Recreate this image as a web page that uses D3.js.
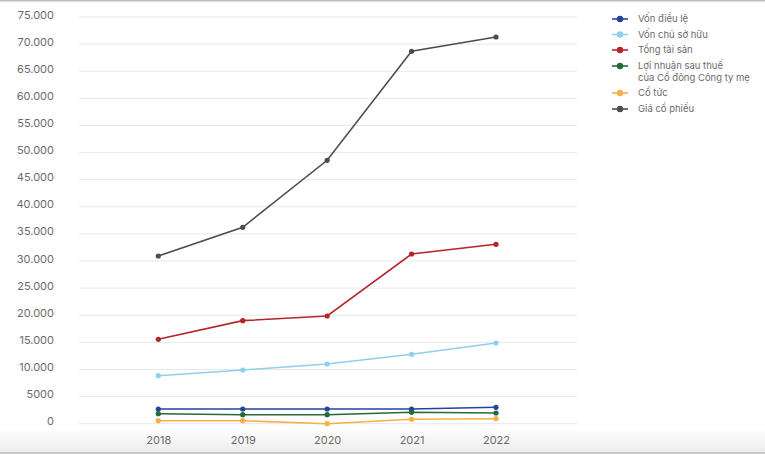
<!DOCTYPE html>
<html><head><meta charset="utf-8">
<script src="https://cdn.jsdelivr.net/npm/d3@7"></script>
<style>
html,body{margin:0;padding:0;background:#fff;}
svg{display:block;font-family:Inter,"Open Sans",sans-serif;}
</style></head>
<body><svg id="c" width="765" height="454"></svg>
<script>
const years = ["2018","2019","2020","2021","2022"];
const yTicks = [0,5000,10000,15000,20000,25000,30000,35000,40000,45000,50000,55000,60000,65000,70000,75000];
const seriesNames = ["Vốn điều lệ","Vốn chủ sở hữu","Tổng tài sản","Lợi nhuận sau thuế\ncủa Cổ đông Công ty mẹ","Cổ tức","Giá cổ phiếu"];
const seriesColors = ["#26439b","#8ecfee","#b5252a","#236b3a","#f5b04a","#4d4d4d"];
const vonDieuLe = [2710,2710,2710,2710,3020];
const vonChuSoHuu = [8850,9900,11010,12800,14880];
const tongTaiSan = [15560,19000,19860,31290,33080];
const loiNhuan = [1840,1660,1660,2100,1970];
const coTuc = [550,550,0,810,920];
const giaCoPhieu = [30925,36220,48575,68670,71310];
const seriesValues = [vonDieuLe,vonChuSoHuu,tongTaiSan,loiNhuan,coTuc,giaCoPhieu];

const svg = d3.select("#c");
// card shadow background
const defs = svg.append("defs");
const g1 = defs.append("linearGradient").attr("id","bot").attr("x1",0).attr("y1",0).attr("x2",0).attr("y2",1);
g1.append("stop").attr("offset","0%").attr("stop-color","#fff");
g1.append("stop").attr("offset","100%").attr("stop-color","#ececec");
svg.append("rect").attr("x",0).attr("y",428).attr("width",765).attr("height",24).attr("fill","url(#bot)");
svg.append("rect").attr("x",0).attr("y",452).attr("width",765).attr("height",2).attr("fill","#c8c8c8");
svg.append("rect").attr("x",0).attr("y",0).attr("width",765).attr("height",1.5).attr("fill","#bdbdbd");

const x = d3.scalePoint().domain(years).range([158.3,496]);
const y = d3.scaleLinear().domain([0,75000]).range([423.7,17]);

// gridlines
svg.append("g").selectAll("line").data(yTicks).join("line")
  .attr("x1",79).attr("x2",577).attr("y1",d=>y(d)).attr("y2",d=>y(d))
  .attr("stroke","#e8e8e8").attr("stroke-width",1);

// y axis labels
const fmt = d => d>=10000 ? d3.format(",")(d).replace(/,/g,".") : String(d);
const yAxis = d3.axisLeft(y).tickValues(yTicks).tickFormat(fmt).tickSize(0).tickPadding(0);
const ya = svg.append("g").attr("transform","translate(54,-2.5)").call(yAxis);
ya.select(".domain").remove();
ya.selectAll("text").attr("fill","#6b6b6b").attr("font-size","11px").attr("font-family","Inter,'Open Sans',sans-serif");

// x axis labels
const xAxis = d3.axisBottom(x).tickSize(0).tickPadding(0);
const xa = svg.append("g").attr("transform","translate(0,436)").call(xAxis);
xa.select(".domain").remove();
xa.selectAll("text").attr("fill","#6b6b6b").attr("font-size","11px").attr("font-family","Inter,'Open Sans',sans-serif");

const line = d3.line().x((d,i)=>x(years[i])).y(d=>y(d));
seriesValues.forEach((vals,si)=>{
  const g = svg.append("g");
  g.append("path").datum(vals).attr("d",line).attr("fill","none")
    .attr("stroke",seriesColors[si]).attr("stroke-width",1.6);
  g.selectAll("circle").data(vals).join("circle")
    .attr("cx",(d,i)=>x(years[i])).attr("cy",d=>y(d)).attr("r",2.6)
    .attr("fill",seriesColors[si]);
});

// legend
const legY = [19,34.5,50,66,93,109];
const leg = svg.append("g");
seriesNames.forEach((name,i)=>{
  const gy = legY[i];
  leg.append("line").attr("x1",612).attr("x2",628).attr("y1",gy).attr("y2",gy)
    .attr("stroke",seriesColors[i]).attr("stroke-width",1.6);
  leg.append("circle").attr("cx",620).attr("cy",gy).attr("r",3.2).attr("fill",seriesColors[i]);
  const t = leg.append("text").attr("x",638).attr("y",gy+3.3)
    .attr("fill","#6b6b6b").attr("font-size","9.5px");
  name.split("\n").forEach((ln,k)=>{
    t.append("tspan").attr("x",638).attr("dy",k===0?0:11.5).text(ln);
  });
});
</script></body></html>
